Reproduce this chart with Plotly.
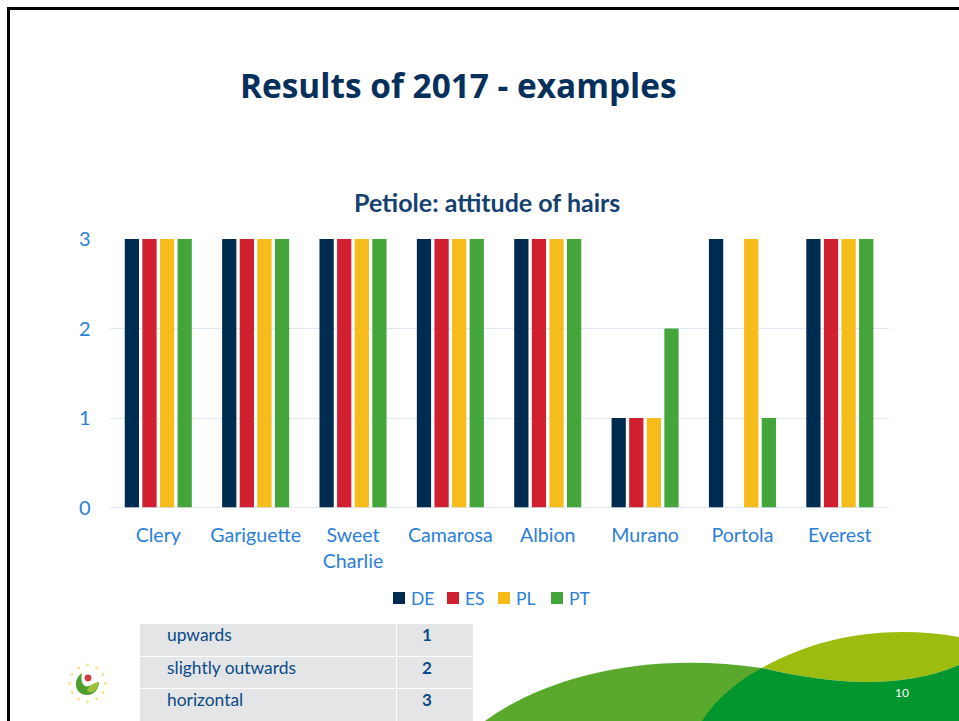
import plotly.graph_objects as go

W, H = 959, 721

varieties = ["Clery", "Gariguette", "Sweet<br>Charlie", "Camarosa", "Albion", "Murano", "Portola", "Everest"]
de = [3, 3, 3, 3, 3, 1, 3, 3]
es = [3, 3, 3, 3, 3, 1, 0, 3]
pl = [3, 3, 3, 3, 3, 1, 3, 3]
pt = [3, 3, 3, 3, 3, 2, 1, 3]
y_ticks = [0, 1, 2, 3]

scale_notes = ["upwards", "slightly outwards", "horizontal"]
scale_codes = ["1", "2", "3"]

NAVY = "#002b50"
RED = "#d02030"
AMBER = "#f5bc1c"
GREEN = "#43a53a"
BLUE_TEXT = "#2b80d8"
TABLE_TEXT = "#0a4a86"


def px(x):
    return x / W


def py(y):
    return 1 - y / H


def path(points):
    """SVG path in slide pixels, converted to paper coordinates."""
    out = []
    for cmd, *coords in points:
        pairs = [f"{px(coords[i]):.5f},{py(coords[i + 1]):.5f}" for i in range(0, len(coords), 2)]
        out.append(cmd + " " + " ".join(pairs))
    return " ".join(out)


def blob(color, points):
    return dict(type="path", xref="paper", yref="paper", path=path(points),
                fillcolor=color, line=dict(width=0), layer="below")


def rect(x0, y0, x1, y1, color):
    return dict(type="rect", xref="paper", yref="paper", x0=px(x0), x1=px(x1),
                y0=py(y1), y1=py(y0), fillcolor=color, line=dict(width=0), layer="below")


def dot(cx, cy, r, color):
    return dict(type="circle", xref="paper", yref="paper", x0=px(cx - r), x1=px(cx + r),
                y0=py(cy + r), y1=py(cy - r), fillcolor=color, line=dict(width=0), layer="below")


def label(x, y, text, size, color, anchor="left", bold=False, family="Lato"):
    return dict(xref="paper", yref="paper", x=px(x), y=py(y), text=f"<b>{text}</b>" if bold else text,
                showarrow=False, xanchor=anchor, yanchor="middle",
                font=dict(size=size, color=color, family=family))


series = [("DE", de, NAVY), ("ES", es, RED), ("PL", pl, AMBER), ("PT", pt, GREEN)]

fig = go.Figure()
for name, values, color in series:
    fig.add_bar(name=name, x=varieties, y=values, marker=dict(color=color, line=dict(width=0)),
                showlegend=False)

shapes = [
    # footer swooshes
    blob("#5aa82c", [("M", 485, 721), ("C", 540, 680, 640, 650, 762, 668), ("L", 762, 721), ("Z",)]),
    blob("#9cbd10", [("M", 762, 668), ("C", 820, 635, 890, 625, 959, 637), ("L", 959, 665),
                     ("C", 900, 690, 830, 684, 762, 668), ("Z",)]),
    blob("#02962f", [("M", 702, 721), ("C", 718, 696, 740, 680, 762, 668),
                     ("C", 830, 684, 900, 690, 959, 665), ("L", 959, 721), ("Z",)]),
    # slide frame
    dict(type="path", xref="paper", yref="paper", layer="below",
         path=path([("M", 8.5, 721), ("L", 8.5, 8.5), ("L", 959, 8.5)]),
         line=dict(color="#000000", width=3)),
]

# scale key below the chart
row_edges = [(624, 656), (657, 688), (689, 721)]
row_text_y = [634.5, 667, 699.5]
for top, bottom in row_edges:
    shapes.append(rect(140, top, 396, bottom, "#e4e5e7"))
    shapes.append(rect(397, top, 473, bottom, "#e4e5e7"))

# logo: ring of stars, leaf, red dot
ring = [(87.5, 665), (96.5, 668), (103, 674.5), (105.5, 683.5), (103, 692.5), (96.5, 699),
        (87.5, 702), (78.5, 699), (72, 692.5), (69.5, 683.5), (72, 674.5), (78.5, 668)]
for cx, cy in ring:
    shapes.append(dot(cx, cy, 1.4, "#f8e08a"))
shapes.append(blob("#4f9d2a", [("M", 82, 673), ("C", 72, 680, 75, 695, 87, 695),
                               ("C", 95, 695, 99, 688, 99, 682), ("C", 94, 683, 88, 688, 85, 686),
                               ("C", 81, 683, 81, 678, 82, 673), ("Z",)]))
shapes.append(blob("#9cc23c", [("M", 99, 682), ("C", 94, 683, 89, 686, 87, 690),
                               ("C", 89, 695, 98, 692, 99, 682), ("Z",)]))
shapes.append(dot(88, 678, 3.4, "#d13a3f"))

annotations = [
    label(458, 85, "Results of 2017 - examples", 33.4, "#06305c", "center", True, "Open Sans"),
    label(487, 202, "Petiole: attitude of hairs", 25, "#15406f", "center", True),
    label(902, 692, "10", 12, "#ffffff", "center"),
]
for y, note, code in zip(row_text_y, scale_notes, scale_codes):
    annotations.append(label(165, y, note, 17.4, TABLE_TEXT))
    annotations.append(label(427, y, code, 17, TABLE_TEXT, "center", True))

# key for the four series, spelled out next to the plot
key_swatch_x = [393, 447, 498, 551]
for sx, (name, _, color) in zip(key_swatch_x, series):
    shapes.append(rect(sx, 592, sx + 12, 604, color))
    annotations.append(label(sx + 16, 598, name, 17.5, BLUE_TEXT))

fig.update_layout(
    width=W, height=H, margin=dict(l=0, r=0, t=0, b=0),
    paper_bgcolor="#ffffff", plot_bgcolor="#ffffff",
    barmode="group", bargap=0.277, bargroupgap=0.19,
    font=dict(family="Lato", color=BLUE_TEXT, size=20),
    shapes=shapes, annotations=annotations,
    xaxis=dict(domain=[px(109.6), px(888.5)], showgrid=False, showline=False, ticks="",
               ticklabelstandoff=14,
               tickfont=dict(size=19.6, color=BLUE_TEXT), tickangle=0, automargin=False),
    yaxis=dict(domain=[py(507.5), py(239)], range=[0, 3], tickvals=y_ticks,
               gridcolor="#dde9f6", gridwidth=1, zeroline=True, zerolinecolor="#dde9f6", zerolinewidth=1,
               showline=False, ticks="", ticklabelstandoff=18,
               tickfont=dict(size=20, color=BLUE_TEXT), automargin=False),
)

fig.write_html("out.html")
